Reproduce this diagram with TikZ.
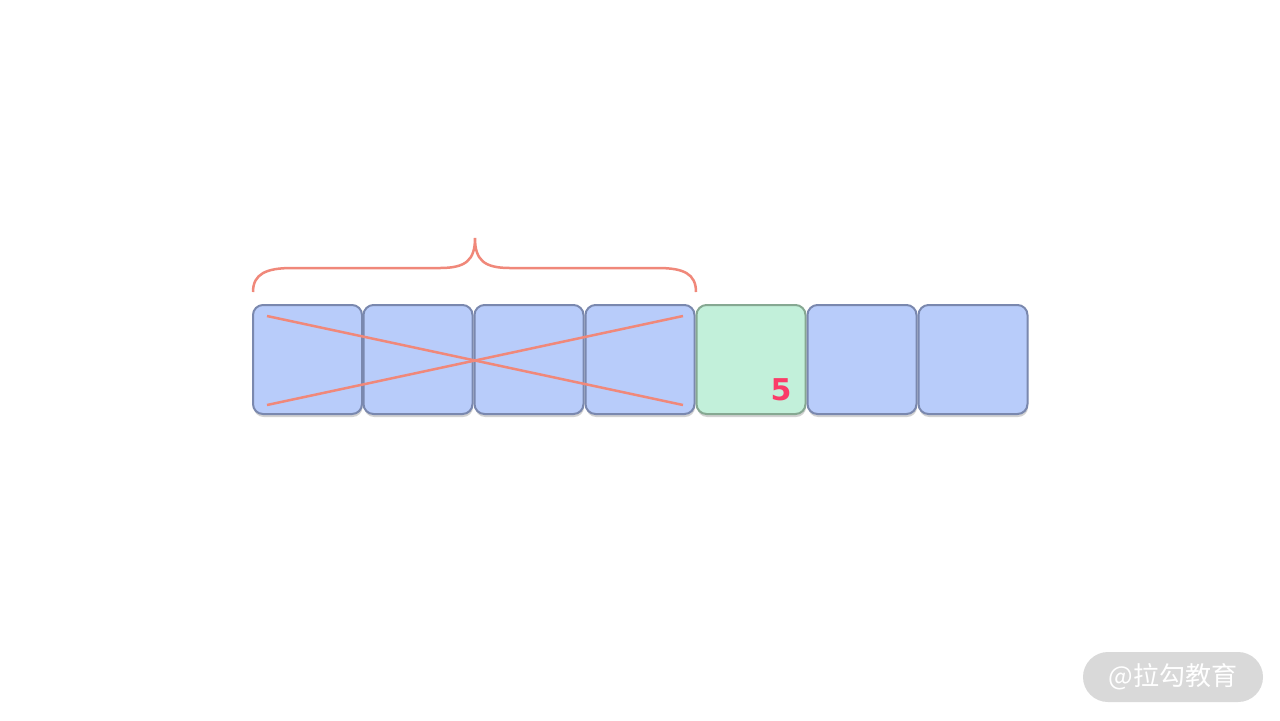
\documentclass[tikz,border=0pt]{standalone}
\usepackage{fontspec}
\setmainfont{Noto Sans}
\newfontfamily\cjk{Noto Sans CJK SC}
\newfontfamily\numfont{DejaVu Sans}
\usetikzlibrary{shadows}
\definecolor{boxblue}{HTML}{B8CCFA}
\definecolor{boxbluedraw}{HTML}{7A88AE}
\definecolor{boxgreen}{HTML}{C2F0DA}
\definecolor{boxgreendraw}{HTML}{86A892}
\definecolor{salmon}{HTML}{F0887A}
\definecolor{numred}{HTML}{FA3C68}
\definecolor{wmgray}{HTML}{D9D9D9}
\tikzset{
  cell/.style={draw=boxbluedraw, fill=boxblue, line width=1pt, rounded corners=5pt,
    minimum width=54.5pt, minimum height=54.5pt, inner sep=0pt,
    drop shadow={opacity=0.35, shadow xshift=0.3pt, shadow yshift=-1.5pt}},
  greencell/.style={cell, draw=boxgreendraw, fill=boxgreen},
  cross/.style={draw=salmon, line width=1.25pt},
  bracestyle/.style={draw=salmon, line width=1.25pt},
  numlabel/.style={text=numred, font=\numfont\bfseries\fontsize{15}{18}\selectfont, inner sep=0pt},
  watermark/.style={fill=wmgray, rounded corners=12.5pt, minimum width=90pt, minimum height=25pt,
    text=white, font=\cjk\fontsize{13}{15}\selectfont, inner sep=0pt}
}
\begin{document}
\begin{tikzpicture}[x=0.5pt, y=-0.5pt]
\useasboundingbox[fill=white] (0,0) rectangle (1280,720);
% cells
\node[cell] (b1) at (307.5,359.5) {};
\node[cell] (b2) at (418,359.5) {};
\node[cell] (b3) at (529,359.5) {};
\node[cell] (b4) at (640,359.5) {};
\node[greencell] (b5) at (751,359.5) {};
\node[cell] (b6) at (862,359.5) {};
\node[cell] (b7) at (973,359.5) {};
% number
\node[numlabel] (n5) at (781,390) {5};
% cross
\coordinate (c1) at (267,316);
\coordinate (c2) at (683,405);
\coordinate (c3) at (267,405);
\coordinate (c4) at (683,316);
\draw[cross] (c1) -- (c2);
\draw[cross] (c3) -- (c4);
% brace
\coordinate (bl) at (253,292);
\coordinate (br) at (696,292);
\coordinate (bt) at (475,238);
\draw[bracestyle] (bl) .. controls (253,274) and (266,268) .. (292,268) -- (440,268)
  .. controls (466,268) and (475,260) .. (bt)
  .. controls (475,260) and (484,268) .. (510,268) -- (658,268)
  .. controls (684,268) and (696,274) .. (br);
% watermark
\node[watermark] (wm) at (1173,677) {@拉勾教育};
\end{tikzpicture}
\end{document}
